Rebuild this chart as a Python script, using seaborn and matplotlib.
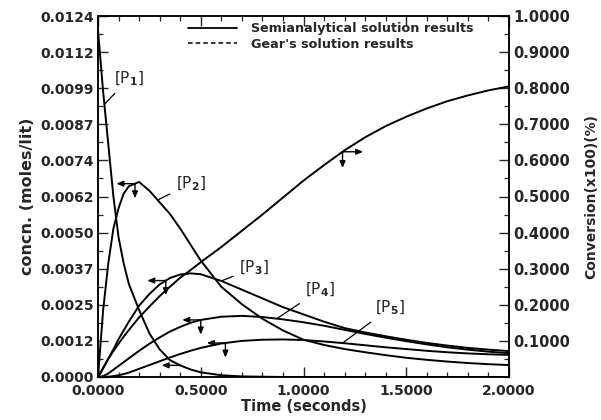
import numpy as np
import pandas as pd
import matplotlib
matplotlib.use("Agg")
import matplotlib.pyplot as plt
import seaborn as sns
from matplotlib.lines import Line2D
from matplotlib.ticker import FixedLocator, MultipleLocator

# ---------------- data ----------------
time_s = [0, 0.025, 0.05, 0.075, 0.1, 0.125, 0.15,
          0.2, 0.25, 0.3, 0.35, 0.4, 0.45, 0.5,
          0.6, 0.7, 0.8, 0.9, 1.0,
          1.1, 1.2, 1.3, 1.4, 1.5, 1.6, 1.7, 1.8, 1.9, 2.0]

p1 = [0.0119, 0.0098, 0.0080, 0.0062, 0.0048, 0.0039, 0.0032,
      0.0023, 0.0015, 0.00095, 0.00058, 0.00040, 0.00026, 0.00016,
      0.00006, 0.00002, 0.00001, 0.0, 0.0,
      0.0, 0.0, 0.0, 0.0, 0.0, 0.0, 0.0, 0.0, 0.0, 0.0]
p2 = [0.0, 0.0023, 0.0039, 0.0051, 0.0058, 0.0063, 0.00655,
      0.0067, 0.0064, 0.0060, 0.0056, 0.0051, 0.00455, 0.0040,
      0.0031, 0.0025, 0.0020, 0.0016, 0.00128,
      0.00110, 0.00096, 0.00085, 0.00075, 0.00066, 0.00059, 0.00053, 0.00048, 0.00044, 0.00041]
p3 = [0.0, 0.0003, 0.00063, 0.00095, 0.0013, 0.0016, 0.0019,
      0.00245, 0.00285, 0.00318, 0.0034, 0.00352, 0.00356, 0.00353,
      0.0033, 0.0030, 0.0027, 0.0024, 0.00215,
      0.0019, 0.00168, 0.00153, 0.0014, 0.00128, 0.00117, 0.00108, 0.0010, 0.00094, 0.00089]
p4 = [0.0, 0.00003, 0.00012, 0.00025, 0.00038, 0.00051, 0.00064,
      0.0009, 0.00114, 0.00136, 0.00156, 0.00172, 0.00186, 0.00196,
      0.00207, 0.0021, 0.00206, 0.00198, 0.00188,
      0.00176, 0.00162, 0.00148, 0.00135, 0.00123, 0.00112, 0.00102, 0.00094, 0.00087, 0.00082]
p5 = [0.0, 0.0, 0.00001, 0.00003, 0.00006, 0.0001, 0.00015,
      0.00028, 0.00041, 0.00054, 0.00067, 0.00079, 0.0009, 0.0010,
      0.00115, 0.00124, 0.00128, 0.00129, 0.00127,
      0.00122, 0.00116, 0.00109, 0.00102, 0.00096, 0.0009, 0.00085, 0.00081, 0.00078, 0.00076]
conversion = [0.0, 0.025, 0.05, 0.072, 0.092, 0.112, 0.13,
              0.165, 0.195, 0.224, 0.25, 0.275, 0.296, 0.318,
              0.36, 0.405, 0.45, 0.497, 0.544,
              0.587, 0.628, 0.664, 0.695, 0.721, 0.744, 0.764, 0.780, 0.794, 0.805]

species = ["P1", "P2", "P3", "P4", "P5"]
species_labels = ["[P$_1$]", "[P$_2$]", "[P$_3$]", "[P$_4$]", "[P$_5$]"]

x_ticks = [0.0, 0.5, 1.0, 1.5, 2.0]
x_tick_labels = ["0.0000", "0.5000", "1.0000", "1.5000", "2.0000"]
y_ticks = list(np.linspace(0, 0.0124, 11))
y_tick_labels = ["0.0000", "0.0012", "0.0025", "0.0037", "0.0050", "0.0062",
                 "0.0074", "0.0087", "0.0099", "0.0112", "0.0124"]
y2_ticks = [0.1, 0.2, 0.3, 0.4, 0.5, 0.6, 0.7, 0.8, 0.9, 1.0]
y2_tick_labels = ["0.1000", "0.2000", "0.3000", "0.4000", "0.5000",
                  "0.6000", "0.7000", "0.8000", "0.9000", "1.0000"]

legend_labels = ["Semianalytical solution results", "Gear's solution results"]

# ---------------- styling ----------------
sns.set_style("ticks")
plt.rcParams["font.family"] = ["DejaVu Sans"]
plt.rcParams["font.weight"] = "bold"

series = {"P1": p1, "P2": p2, "P3": p3, "P4": p4, "P5": p5}
df = pd.concat([pd.DataFrame({"time": time_s, "conc": v, "species": k})
                for k, v in series.items()], ignore_index=True)
df_conv = pd.DataFrame({"time": time_s, "conversion": conversion})

fig = plt.figure(figsize=(6.01, 4.20), dpi=100)
ax = fig.add_axes([98 / 601, 1 - 377 / 420, 411 / 601, 361 / 420])
ax2 = ax.twinx()

sns.lineplot(data=df, x="time", y="conc", hue="species",
             palette=["black"] * 5, linewidth=1.4, legend=False, ax=ax)
sns.lineplot(data=df_conv, x="time", y="conversion", color="black",
             linewidth=1.4, legend=False, ax=ax2)

ax.set_xlim(0, 2.0)
ax.set_ylim(0, 0.0124)
ax2.set_ylim(0, 1.0)

ax.xaxis.set_major_locator(FixedLocator(x_ticks))
ax.set_xticklabels(x_tick_labels)
ax.xaxis.set_minor_locator(MultipleLocator(0.1))
ax.yaxis.set_major_locator(FixedLocator(y_ticks))
ax.set_yticklabels(y_tick_labels)
ax.yaxis.set_minor_locator(MultipleLocator(0.0124 / 20))
ax2.yaxis.set_major_locator(FixedLocator(y2_ticks))
ax2.set_yticklabels(y2_tick_labels)
ax2.yaxis.set_minor_locator(MultipleLocator(0.05))

ax.tick_params(axis="both", which="major", direction="in", length=7, width=1.0,
               top=True, labelsize=10)
ax.tick_params(axis="x", which="major", pad=5)
ax.tick_params(axis="y", which="major", pad=3)
ax.tick_params(axis="both", which="minor", direction="in", length=3.5, width=0.9,
               top=True)
ax.tick_params(axis="y", which="both", right=False)
ax2.tick_params(axis="y", which="major", direction="in", length=7, width=1.0,
                pad=3, labelsize=10.5)
ax2.tick_params(axis="y", which="minor", direction="in", length=3.5, width=0.9)
for lab in ax.get_xticklabels() + ax.get_yticklabels() + ax2.get_yticklabels():
    lab.set_fontweight("bold")

for a in (ax, ax2):
    for s in a.spines.values():
        s.set_linewidth(1.1)
        s.set_color("black")

ax.set_xlabel("Time (seconds)", fontsize=10.5, fontweight="bold", labelpad=1)
ax.set_ylabel("concn. (moles/lit)", fontsize=11.5, fontweight="bold", labelpad=4)
ax2.set_ylabel("Conversion(x100)(%)", fontsize=10, fontweight="bold", labelpad=10)

# ---------------- species labels with leader lines ----------------
label_text_pos = [(0.150, 0.01024), (0.450, 0.00664), (0.760, 0.00374),
                  (1.080, 0.00299), (1.420, 0.00237)]
label_anchor_t = [0.031, 0.29, 0.60, 0.87, 1.19]
for vals, lab, (tx, ty), at in zip([p1, p2, p3, p4, p5], species_labels,
                                   label_text_pos, label_anchor_t):
    ay = np.interp(at, time_s, vals)
    ax.annotate(lab, xy=(at, ay), xytext=(tx, ty), fontsize=11, fontweight="normal",
                ha="center", va="center",
                arrowprops=dict(arrowstyle="-", color="black", lw=0.9,
                                shrinkA=2, shrinkB=0))

# ---------------- axis-pointer arrows ----------------
arrow_t = [0.40, 0.18, 0.33, 0.50, 0.62]
arrow_kw = dict(arrowstyle="-|>,head_length=0.4,head_width=0.17", color="black", lw=1.0,
                shrinkA=0, shrinkB=0)
dx = 0.09
dy = 0.0005
for vals, t in zip([p1, p2, p3, p4, p5], arrow_t):
    yv = np.interp(t, time_s, vals)
    ax.annotate("", xy=(t - dx, yv), xytext=(t, yv), arrowprops=arrow_kw)
    ax.annotate("", xy=(t, yv - dy), xytext=(t, yv), arrowprops=arrow_kw)

tc = 1.19
yc = np.interp(tc, time_s, conversion)
ax2.annotate("", xy=(tc + 0.1, yc), xytext=(tc, yc), arrowprops=arrow_kw)
ax2.annotate("", xy=(tc, yc - 0.045), xytext=(tc, yc), arrowprops=arrow_kw)

# ---------------- legend ----------------
handles = [Line2D([], [], color="black", lw=1.3, ls="-"),
           Line2D([], [], color="black", lw=1.1, ls=(0, (3, 2)))]
leg = ax.legend(handles, legend_labels, loc="upper left",
                bbox_to_anchor=(0.19, 1.015), frameon=False,
                prop=dict(size=9.2, weight="bold"), handlelength=3.9,
                handletextpad=1.1, labelspacing=0.2)

fig.savefig("out.png", dpi=100)
